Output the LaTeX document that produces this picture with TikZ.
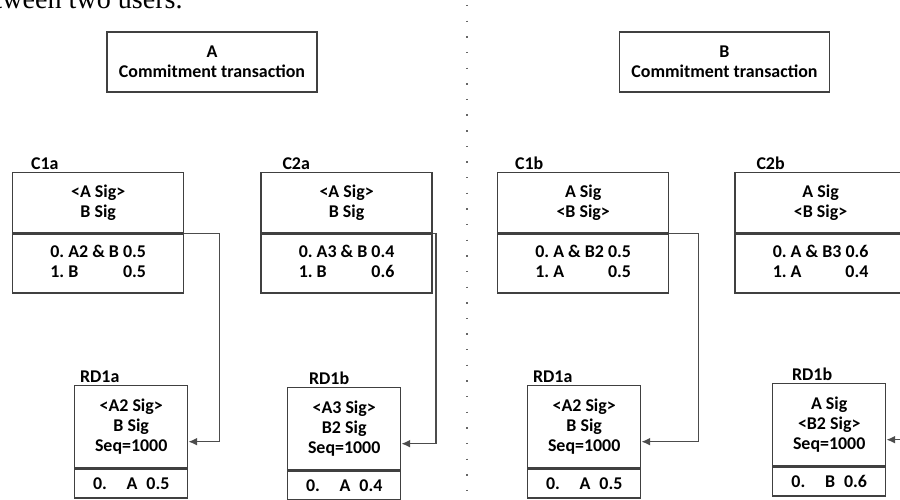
\documentclass[tikz,border=0pt]{standalone}
\usepackage{fontspec}
\setmainfont{Carlito}
\newfontfamily\capfont{Liberation Serif}
\usetikzlibrary{arrows.meta,positioning}

\begin{document}
\frenchspacing
\begin{tikzpicture}[
    every node/.style={font=\bfseries\fontsize{10.2}{11.2}\selectfont},
    txbox/.style={draw=black!75, line width=0.8pt, align=center, inner sep=2pt},
    commit/.style={txbox, minimum width=4.2cm, minimum height=1.2cm},
    sigpart/.style={txbox, minimum width=3.42cm, minimum height=1.2cm},
    outpart/.style={txbox, minimum width=3.42cm, minimum height=1.18cm},
    rdsig/.style={txbox, minimum width=2.26cm, minimum height=1.64cm},
    rdout/.style={txbox, minimum width=2.26cm, minimum height=0.58cm},
    tag/.style={inner sep=1pt},
    arrow/.style={->, >={Latex[length=5pt,width=4.5pt]}, draw=black!70, line width=0.8pt}
]
\useasboundingbox (0,0) rectangle (18,-10);
\clip (0,0) rectangle (18,-10);

\node[font=\capfont\fontsize{16}{19}\selectfont, anchor=base east, inner sep=0pt] (caption) at (3.66,-0.18) {between two users.};

% commitment transactions
\node[commit] (commit-a) at (4.24,-1.24) {A\\Commitment transaction};
\node[commit] (commit-b) at (14.49,-1.24) {B\\Commitment transaction};

\node[sigpart, anchor=north west] (c1a) at (0.24,-3.44) {<A Sig>\\B Sig};
\node[outpart, below=0pt of c1a] (c1a-out) {\begin{tabular}{@{}l@{\ }l@{}}0. A2 \& B & 0.5\\1. B & 0.5\end{tabular}};
\node[sigpart, right=1.52cm of c1a] (c2a) {<A Sig>\\B Sig};
\node[outpart, below=0pt of c2a] (c2a-out) {\begin{tabular}{@{}l@{\ }l@{}}0. A3 \& B & 0.4\\1. B & 0.6\end{tabular}};

\node[sigpart, anchor=north west] (c1b) at (9.94,-3.44) {A Sig\\<B Sig>};
\node[outpart, below=0pt of c1b] (c1b-out) {\begin{tabular}{@{}l@{\ }l@{}}0. A \& B2 & 0.5\\1. A & 0.5\end{tabular}};
\node[sigpart, right=1.3cm of c1b] (c2b) {A Sig\\<B Sig>};
\node[outpart, below=0pt of c2b] (c2b-out) {\begin{tabular}{@{}l@{\ }l@{}}0. A \& B3 & 0.6\\1. A & 0.4\end{tabular}};

% revocable delivery
\node[rdsig, anchor=north west] (rd1a) at (1.48,-7.70) {<A2 Sig>\\B Sig\\Seq=1000};
\node[rdout, below=0pt of rd1a] (rd1a-out) {0.\hspace{1.1em}A\hspace{0.5em}0.5};
\node[rdsig, anchor=north west] (rd1b) at (5.74,-7.74) {<A3 Sig>\\B2 Sig\\Seq=1000};
\node[rdout, below=0pt of rd1b] (rd1b-out) {0.\hspace{1.1em}A\hspace{0.5em}0.4};
\node[rdsig, anchor=north west] (rd1a-b) at (10.54,-7.70) {<A2 Sig>\\B Sig\\Seq=1000};
\node[rdout, below=0pt of rd1a-b] (rd1a-b-out) {0.\hspace{1.1em}A\hspace{0.5em}0.5};
\node[rdsig, anchor=north west] (rd1b-b) at (15.44,-7.66) {A Sig\\<B2 Sig>\\Seq=1000};
\node[rdout, below=0pt of rd1b-b] (rd1b-b-out) {0.\hspace{1.1em}B\hspace{0.5em}0.6};

% tags
\node[tag, above right=0pt and 0.34cm of c1a.north west] (c1a-tag) {C1a};
\node[tag, above right=0pt and 0.4cm of c2a.north west] (c2a-tag) {C2a};
\node[tag, above right=0pt and 0.32cm of c1b.north west] (c1b-tag) {C1b};
\node[tag, above right=0pt and 0.4cm of c2b.north west] (c2b-tag) {C2b};
\node[tag, above right=0pt and 0.08cm of rd1a.north west] (rd1a-tag) {RD1a};
\node[tag, above right=0pt and 0.4cm of rd1b.north west] (rd1b-tag) {RD1b};
\node[tag, above right=0pt and 0.08cm of rd1a-b.north west] (rd1a-b-tag) {RD1a};
\node[tag, above right=0pt and 0.36cm of rd1b-b.north west] (rd1b-b-tag) {RD1b};

\draw[arrow] (c1a-out.north east) -- ++(0.7,0) |- ([yshift=-0.3cm]rd1a.east);
\draw[arrow] (c2a-out.north east) -- ++(0.06,0) |- ([yshift=-0.3cm]rd1b.east);
\draw[arrow] (c1b-out.north east) -- ++(0.58,0) |- ([yshift=-0.3cm]rd1a-b.east);
\draw[arrow] (c2b-out.north east) -- ++(0.5,0) |- ([yshift=-0.3cm]rd1b-b.east);

% separator
\coordinate (sep-top) at (9.34,-0.1);
\coordinate (sep-bot) at (9.34,-10);
\draw[black!60, line width=1.1pt, dash pattern=on 0.8pt off 8.1pt] (sep-top) -- (sep-bot);
\end{tikzpicture}
\end{document}
